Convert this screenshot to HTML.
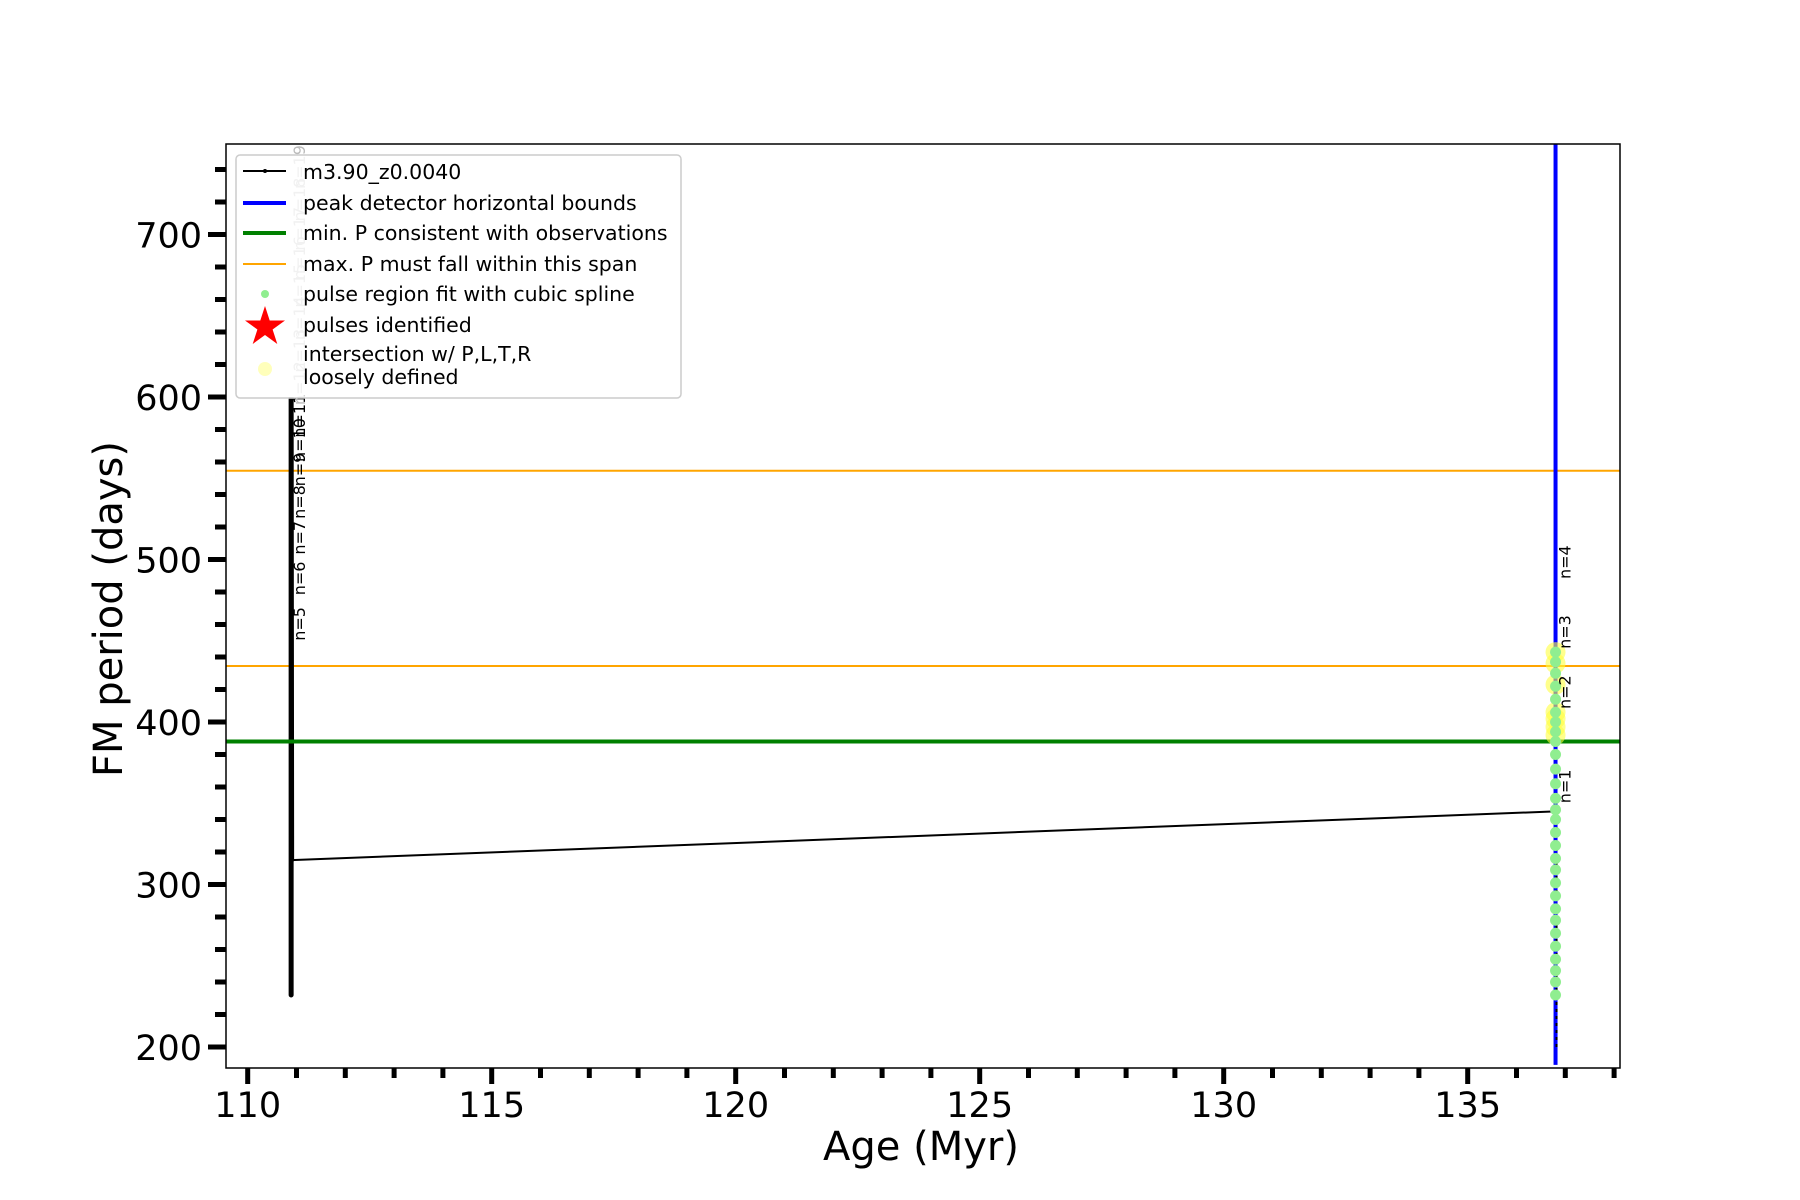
<!DOCTYPE html>
<html><head><meta charset="utf-8"><style>
html,body{margin:0;padding:0;background:#fff;}
svg{display:block;font-family:"DejaVu Sans","Liberation Sans",sans-serif;}
</style></head><body>
<svg id="chart" width="1800" height="1200" viewBox="0 0 1800 1200">
<rect x="0" y="0" width="1800" height="1200" fill="#fff"/>
<g id="plot"></g>
<g id="axes"></g>
<g id="legend"></g>
</svg>
<script>
// ---- data ----
const xTicks = [110,115,120,125,130,135];
const yTicks = [200,300,400,500,600,700];
const trackAge = [110.89,110.89,110.9,110.9,136.8,136.8,136.8];
const trackPeriod = [232,600,330,315,345,200,345];
const pulseAge = 136.8;
const splinePeriods = [232,240,247,254,262,270,278,285,293,301,309,316,324,332,340,346,353,362,371,380,388,394,400,406,414,422,430,437,443];
const yellowPeriods = [392,397,402,406,423,436,443];
const minPeriod = 388;
const maxSpan = [434.5,554.6];
const blueBounds = [189,753];
const leftLabels = ['n=5','n=6','n=7','n=8','n=9','n=10','n=11','n=12','n=13','n=14','n=15','n=16','n=17','n=18','n=19'];
const leftLabelPeriods = [450,478,503,525,545,560,575,595,615,635,655,672,690,708,728];
const rightLabels = ['n=1','n=2','n=3','n=4'];
const rightLabelPeriods = [350,408,445,488];

// ---- scales ----
const X0=226,X1=1620,Y0=144,Y1=1068;
const sx=v=>247.7+(v-110)*48.8;
const sy=v=>1047-(v-200)*1.625;
const NS='http://www.w3.org/2000/svg';
function mk(tag,attrs,parent){const e=document.createElementNS(NS,tag);for(const k in attrs)e.setAttribute(k,attrs[k]);parent.appendChild(e);return e;}
const plot=document.getElementById('plot'),axes=document.getElementById('axes'),legend=document.getElementById('legend');

let e;
e=mk('line',{x1:X0,x2:X1,y1:sy(maxSpan[0]),y2:sy(maxSpan[0]),stroke:'#ffa500','stroke-width':2},plot);


e=mk('line',{x1:X0,x2:X1,y1:sy(maxSpan[1]),y2:sy(maxSpan[1]),stroke:'#ffa500','stroke-width':2},plot);



let pts=[];for(let i=0;i<4;i++)pts.push(sx(trackAge[i])+','+sy(trackPeriod[i]));
e=mk('polyline',{points:pts.join(' '),fill:'none',stroke:'#000','stroke-width':5,'stroke-linecap':'round'},plot);


e=mk('line',{x1:sx(trackAge[3]),y1:sy(trackPeriod[3]),x2:sx(trackAge[4]),y2:sy(trackPeriod[4]),stroke:'#000','stroke-width':2},plot);



e=mk('line',{x1:sx(pulseAge),x2:sx(pulseAge),y1:sy(blueBounds[0]),y2:Y0,stroke:'#0000ff','stroke-width':4},plot);


e=mk('line',{x1:sx(pulseAge)+1,x2:sx(pulseAge)+1,y1:sy(trackPeriod[5]),y2:sy(trackPeriod[6]),stroke:'#000','stroke-width':2,'stroke-dasharray':'3 4'},plot);



e=mk('line',{x1:X0,x2:X1,y1:sy(minPeriod),y2:sy(minPeriod),stroke:'#008000','stroke-width':4},plot);



yellowPeriods.forEach(p=>{const c=mk('circle',{cx:sx(pulseAge),cy:sy(p),r:10,fill:'#ffff40','fill-opacity':0.6},plot);

});
splinePeriods.forEach(p=>{const c=mk('circle',{cx:sx(pulseAge),cy:sy(p),r:5.5,fill:'#90ee90'},plot);

});

leftLabels.forEach((t,i)=>{const x=sx(110.89)+14,y=sy(leftLabelPeriods[i]);
const tx=mk('text',{x:x,y:y,transform:`rotate(-90 ${x} ${y})`,'font-size':16,fill:i<7?'#000':'#bbbbbb','text-anchor':'start'},plot);tx.textContent=t;

});
rightLabels.forEach((t,i)=>{const x=sx(pulseAge)+15,y=sy(rightLabelPeriods[i]);
const tx=mk('text',{x:x,y:y,transform:`rotate(-90 ${x} ${y})`,'font-size':16,fill:'#000','text-anchor':'start'},plot);tx.textContent=t;

});

e=mk('rect',{x:X0,y:Y0,width:X1-X0,height:Y1-Y0,fill:'none',stroke:'#000','stroke-width':1.5},axes);


for(let v=110;v<=138;v++){const maj=v%5===0;const t=mk('line',{x1:sx(v),x2:sx(v),y1:Y1,y2:Y1+(maj?16:10),stroke:'#000','stroke-width':5},axes);

}
xTicks.forEach(v=>{const t=mk('text',{x:sx(v),y:1117,'font-size':35,'text-anchor':'middle'},axes);t.textContent=v;

});
for(let v=200;v<=740;v+=20){const maj=v%100===0;const t=mk('line',{x1:X0-(maj?18:11),x2:X0,y1:sy(v),y2:sy(v),stroke:'#000','stroke-width':5},axes);

}
yTicks.forEach(v=>{const t=mk('text',{x:202,y:sy(v)+13,'font-size':35,'text-anchor':'end'},axes);t.textContent=v;

});
e=mk('text',{x:921,y:1160,'font-size':40,'text-anchor':'middle'},axes);e.textContent='Age (Myr)';


e=mk('text',{x:122,y:609,'font-size':40,'text-anchor':'middle',transform:'rotate(-90 122 609)'},axes);e.textContent='FM period (days)';



e=mk('rect',{x:236,y:155,width:445,height:243,rx:4,fill:'#fff','fill-opacity':0.8,stroke:'#ccc','stroke-width':1.5},legend);


const legTexts=['m3.90_z0.0040','peak detector horizontal bounds','min. P consistent with observations','max. P must fall within this span','pulse region fit with cubic spline','pulses identified','intersection w/ P,L,T,R','loosely defined'];
const legY=[172,203,233,264,294,325,354,377];
legTexts.forEach((t,i)=>{const tx=mk('text',{x:303,y:legY[i]+7,'font-size':20.5,fill:'#000'},legend);tx.textContent=t;

});
mk('line',{x1:243,x2:286,y1:171,y2:171,stroke:'#000','stroke-width':2},legend);
mk('circle',{cx:265,cy:171,r:2,fill:'#000'},legend);
mk('line',{x1:243,x2:286,y1:203,y2:203,stroke:'#0000ff','stroke-width':4},legend);
mk('line',{x1:243,x2:286,y1:233,y2:233,stroke:'#008000','stroke-width':4},legend);
mk('line',{x1:243,x2:286,y1:264,y2:264,stroke:'#ffa500','stroke-width':2},legend);
mk('circle',{cx:265,cy:294,r:4,fill:'#90ee90'},legend);
const st=[];for(let k=0;k<10;k++){const a=-Math.PI/2+k*Math.PI/5,r=k%2?8:21;st.push((265+r*Math.cos(a)).toFixed(1)+','+(327+r*Math.sin(a)).toFixed(1));}
mk('polygon',{points:st.join(' '),fill:'#ff0000'},legend);
mk('circle',{cx:265,cy:369,r:7,fill:'#ffffaa','fill-opacity':0.8},legend);
</script>
</body></html>
